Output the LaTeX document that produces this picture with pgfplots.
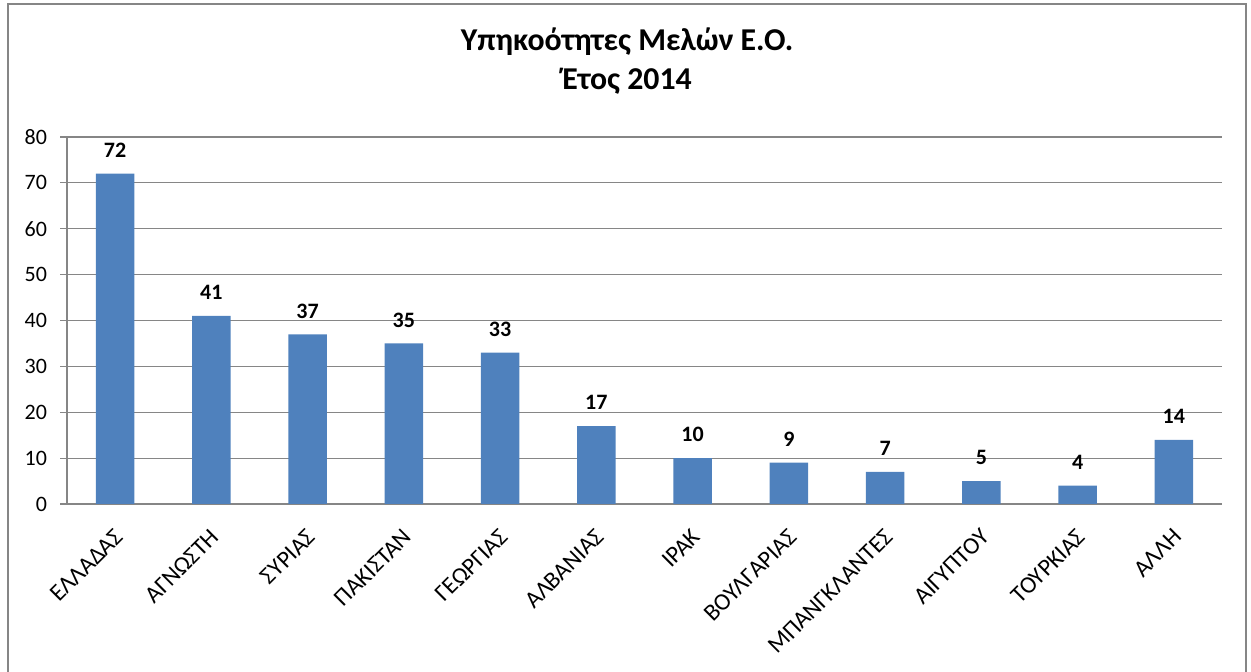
\documentclass[border=0pt]{standalone}
\usepackage{fontspec}
\setmainfont{Carlito}
\usepackage{pgfplots}
\pgfplotsset{compat=1.18}
\definecolor{barblue}{HTML}{4F81BD}
\definecolor{gridgray}{HTML}{868686}
\begin{document}
\begin{tikzpicture}
\path[use as bounding box] (0pt,0pt) rectangle (625.5pt,336pt);
\draw[gridgray, line width=1pt] (4pt,-2pt) -- (4pt,334pt) -- (623pt,334pt) -- (623pt,-2pt);
\node[font=\fontsize{15.9}{18}\selectfont\bfseries, anchor=base] at (313.5pt,310.5pt) {Υπηκοότητες Μελών Ε.Ο.};
\node[font=\fontsize{15.9}{18}\selectfont\bfseries, anchor=base] at (313.5pt,291pt) {Έτος 2014};
\begin{axis}[
  at={(33.5pt,84pt)}, anchor=south west,
  width=577.5pt, height=183.5pt, scale only axis,
  xmin=-0.5, xmax=11.5, ymin=0, ymax=80,
  ytick={0,10,...,80},
  xtick={0,...,11},
  xticklabels={ΕΛΛΑΔΑΣ,ΑΓΝΩΣΤΗ,ΣΥΡΙΑΣ,ΠΑΚΙΣΤΑΝ,ΓΕΩΡΓΙΑΣ,ΑΛΒΑΝΙΑΣ,ΙΡΑΚ,ΒΟΥΛΓΑΡΙΑΣ,ΜΠΑΝΓΚΛΑΝΤΕΣ,ΑΙΓΥΠΤΟΥ,ΤΟΥΡΚΙΑΣ,ΆΛΛΗ},
  minor xtick={-0.5,0.5,...,11.5},
  ymajorgrids, grid style={gridgray, line width=0.6pt},
  axis x line*=bottom, axis y line*=left,
  axis line style={gridgray, line width=0.6pt},
  tick align=outside, major tick length=3.5pt, minor tick length=3.5pt,
  ytick style={gridgray, line width=0.6pt},
  xtick style={draw=none},
  minor tick style={gridgray, line width=0.6pt, draw=gridgray},
  ticklabel style={font=\fontsize{11}{13}\selectfont, text=black},
  /pgf/number format/assume math mode=true,
  yticklabel style={xshift=-3pt},
  xticklabel style={font=\fontsize{12}{14}\selectfont, xshift=4.3pt, yshift=-8.5pt, rotate=45, anchor=east},
  nodes near coords,
  nodes near coords style={font=\fontsize{11}{13}\selectfont\bfseries, yshift=4.5pt},
]
\addplot[ybar, bar width=19.25pt, fill=barblue, draw=none] coordinates {
(0,72) (1,41) (2,37) (3,35) (4,33) (5,17) (6,10) (7,9) (8,7) (9,5) (10,4) (11,14)
};
\end{axis}
\end{tikzpicture}
\end{document}
